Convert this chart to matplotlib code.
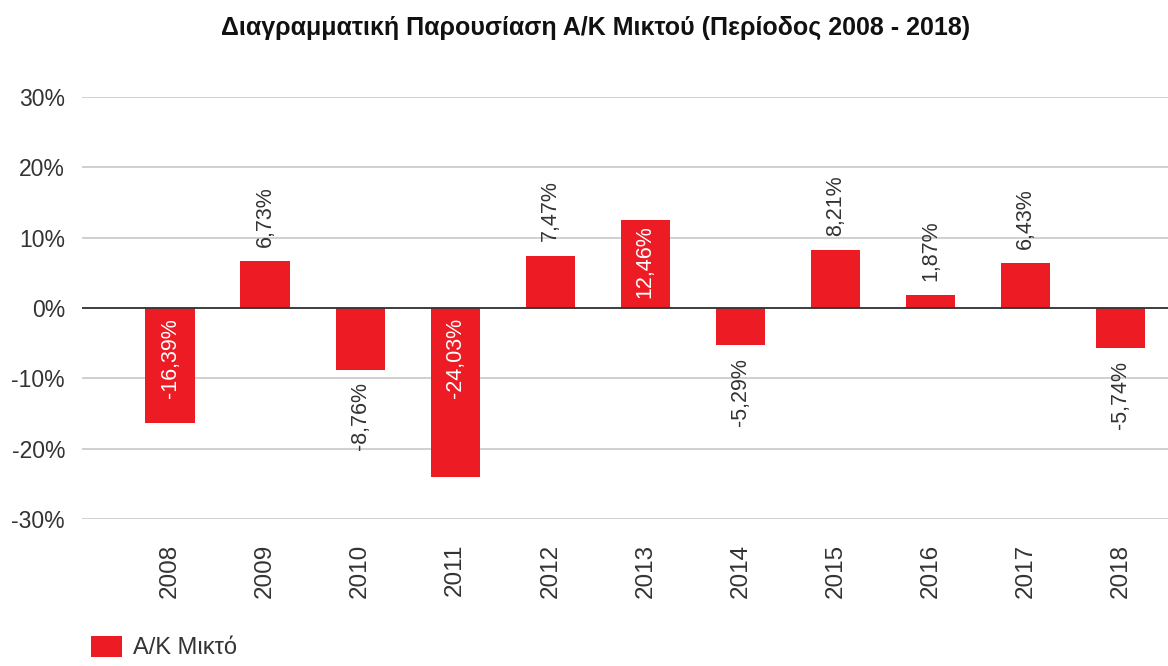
import numpy as np
import matplotlib
matplotlib.use("Agg")
import matplotlib.pyplot as plt

plt.rcParams['font.family'] = ['Liberation Sans', 'DejaVu Sans']

# data
years = ['2008', '2009', '2010', '2011', '2012', '2013', '2014', '2015', '2016', '2017', '2018']
values = [-16.39, 6.73, -8.76, -24.03, 7.47, 12.46, -5.29, 8.21, 1.87, 6.43, -5.74]
# labels drawn inside the bar (at its base) instead of outside the end
inside = ['2008', '2011', '2013']

RED = '#ED1C24'
TXT = '#333333'

fig = plt.figure(figsize=(11.68, 6.66), dpi=100)
ax = fig.add_axes([0.070, 0.221, 0.930, 0.633])

x = np.arange(len(years))
ax.bar(x, values, width=0.52, color=RED, zorder=3, label='Α/Κ Μικτό')

ax.set_ylim(-30, 30)
ax.set_xlim(-0.93, len(years) - 0.5)
ax.set_yticks(np.arange(-30, 31, 10))
ax.set_yticklabels([f'{v}%' for v in range(-30, 31, 10)])
ax.set_xticks(x)
ax.set_xticklabels(years, rotation=90)
ax.tick_params(axis='y', length=0, labelsize=16.5, colors=TXT, pad=12)
ax.tick_params(axis='x', length=0, labelsize=17.5, colors=TXT, pad=18)

ax.grid(axis='y', color='#c8c8c8', linewidth=1.2, zorder=0)
ax.axhline(0, color='#333333', linewidth=1.3, zorder=4)
for s in ax.spines.values():
    s.set_visible(False)

FS = 15.5
for xi, yr, v in zip(x, years, values):
    lab = f'{v:.2f}%'.replace('.', ',')
    if yr in inside:
        if v > 0:
            ax.text(xi, 1.4, lab, rotation=90, ha='center', va='bottom',
                    color='white', fontsize=FS, zorder=5)
        else:
            ax.text(xi, -1.4, lab, rotation=90, ha='center', va='top',
                    color='white', fontsize=FS, zorder=5)
    elif v >= 0:
        ax.text(xi, v + 2.0, lab, rotation=90, ha='center', va='bottom',
                color=TXT, fontsize=FS, zorder=5)
    else:
        ax.text(xi, v - 1.8, lab, rotation=90, ha='center', va='top',
                color=TXT, fontsize=FS, zorder=5)

fig.text(0.510, 0.958, 'Διαγραμματική Παρουσίαση Α/Κ Μικτού (Περίοδος 2008 - 2018)',
         ha='center', va='center', fontsize=18, fontweight='bold', color='#111111')

leg = fig.legend(loc='lower left', bbox_to_anchor=(0.060, -0.022), frameon=False,
                 fontsize=17, handlelength=1.3, handleheight=1.0, handletextpad=0.45)
for t in leg.get_texts():
    t.set_color(TXT)

fig.savefig('out.png', dpi=100)
